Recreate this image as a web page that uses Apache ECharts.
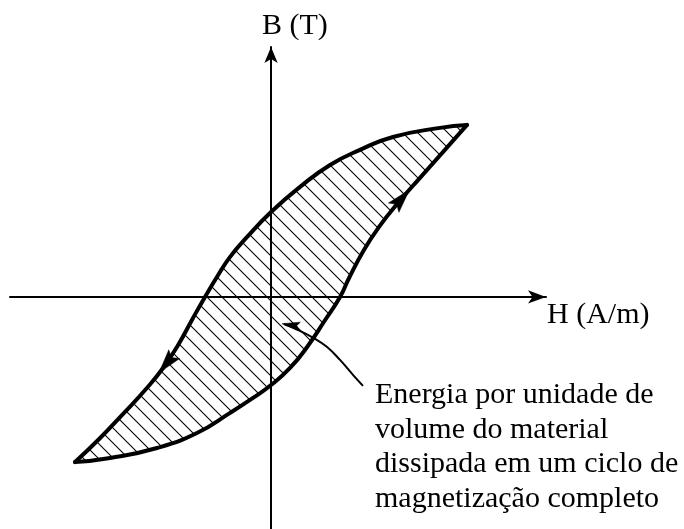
<!DOCTYPE html>
<html>
<head>
<meta charset="utf-8">
<script src="https://cdn.jsdelivr.net/npm/echarts@6/dist/echarts.min.js"></script>
<style>
  html, body { margin: 0; padding: 0; background: #fff; }
  #chart { width: 684px; height: 529px; }
</style>
</head>
<body>
<div id="chart"></div>
<script>
// Hysteresis loop, H and B normalised so the saturation tip is (1, 1)
// descending branch: from the upper right tip down to the lower left tip
const upperH = [1.0, 0.862, 0.622, 0.454, 0.301, 0.148, 0, -0.122, -0.209, -0.276, -0.337, -0.398, -0.474, -0.551, -0.638, -0.75, -0.872, -1.0];
const upperB = [1.0, 0.983, 0.930, 0.855, 0.767, 0.640, 0.494, 0.349, 0.233, 0.116, 0, -0.122, -0.279, -0.413, -0.535, -0.674, -0.82, -0.96];
// ascending branch: from the lower left tip up to the upper right tip
const lowerH = [-1.0, -0.821, -0.582, -0.378, -0.209, -0.092, 0, 0.097, 0.184, 0.276, 0.352, 0.398, 0.474, 0.551, 0.648, 0.760, 0.878, 1.0];
const lowerB = [-0.96, -0.936, -0.878, -0.791, -0.674, -0.587, -0.512, -0.413, -0.291, -0.134, 0, 0.110, 0.273, 0.407, 0.547, 0.692, 0.843, 1.0];

// direction arrows on the loop: [H, B, dH, dB]
const loopArrows = [
  [0.70, 0.615, 0.112, 0.145],
  [-0.565, -0.432, -0.087, -0.122]
];

// pointer to the hatched area
const pointerH = [0.469, 0.418, 0.352, 0.286, 0.209, 0.138, 0.066];
const pointerB = [-0.517, -0.453, -0.366, -0.291, -0.233, -0.192, -0.157];
const pointerTip = [[0.066, -0.157, -0.265, 0.041]];

const noteLines = [
  'Energia por unidade de',
  'volume do material',
  'dissipada em um ciclo de',
  'magnetização completo'
];

// axis extents (the arrow tips sit where the axes end)
const H_MIN = -1.332, H_MAX = 1.403;
const B_MIN = -1.349, B_MAX = 1.453;

const FONT = '30px "Liberation Serif", "Times New Roman", serif';

function zip(xs, ys) {
  return xs.map(function (x, i) { return [x, ys[i]]; });
}

const upperData = zip(upperH, upperB);
const lowerData = zip(lowerH, lowerB);
const loopPolygon = upperData.concat(lowerData.slice(1, -1));

// diagonal hatch tile
function makeHatch(step) {
  const c = document.createElement('canvas');
  c.width = step;
  c.height = step;
  const ctx = c.getContext('2d');
  ctx.strokeStyle = '#000';
  ctx.lineWidth = 1.1;
  ctx.beginPath();
  ctx.moveTo(-1, -1); ctx.lineTo(step + 1, step + 1);
  ctx.moveTo(-1, step - 1); ctx.lineTo(1, step + 1);
  ctx.moveTo(step - 1, -1); ctx.lineTo(step + 1, 1);
  ctx.stroke();
  return c;
}

function arrowRenderer(len, halfW) {
  return function (params, api) {
    const tip = api.coord([api.value(0), api.value(1)]);
    const ref = api.coord([api.value(0) + api.value(2), api.value(1) + api.value(3)]);
    let dx = ref[0] - tip[0], dy = ref[1] - tip[1];
    const d = Math.sqrt(dx * dx + dy * dy) || 1;
    dx /= d; dy /= d;
    const bx = tip[0] - dx * len, by = tip[1] - dy * len;
    const nx = -dy, ny = dx;
    const notchX = tip[0] - dx * len * 0.8, notchY = tip[1] - dy * len * 0.8;
    return {
      type: 'polygon',
      shape: {
        points: [
          [tip[0] + dx * 2, tip[1] + dy * 2],
          [bx + nx * halfW, by + ny * halfW],
          [notchX, notchY],
          [bx - nx * halfW, by - ny * halfW]
        ]
      },
      style: { fill: '#000', stroke: '#000', lineWidth: 0.5 }
    };
  };
}

const chart = echarts.init(document.getElementById('chart'));

const axisCommon = {
  type: 'value',
  axisTick: { show: false },
  axisLabel: { show: false },
  splitLine: { show: false }
};

chart.setOption({
  animation: false,
  backgroundColor: '#fff',
  grid: { left: 10, right: 138, top: 47, bottom: 0 },
  xAxis: Object.assign({}, axisCommon, {
    min: H_MIN, max: H_MAX,
    axisLine: {
      onZero: true,
      symbol: ['none', 'arrow'],
      symbolSize: [10, 18],
      lineStyle: { color: '#000', width: 2 }
    }
  }),
  yAxis: Object.assign({}, axisCommon, {
    min: B_MIN, max: B_MAX,
    axisLine: {
      onZero: true,
      symbol: ['none', 'arrow'],
      symbolSize: [10, 16],
      lineStyle: { color: '#000', width: 2 }
    }
  }),
  graphic: [
    { type: 'text', x: 262, y: 26, style: { text: 'B (T)', font: FONT, fill: '#000', verticalAlign: 'middle' } },
    { type: 'text', x: 547, y: 315, style: { text: 'H (A/m)', font: FONT, fill: '#000', verticalAlign: 'middle' } },
    { type: 'text', x: 375, y: 378, style: { text: noteLines.join('\n'), font: FONT, fill: '#000', lineHeight: 34.5, verticalAlign: 'top' } }
  ],
  series: [
    {
      type: 'custom',
      z: 1,
      silent: true,
      data: [[0, 0]],
      renderItem: function (params, api) {
        return {
          type: 'polygon',
          shape: { points: loopPolygon.map(function (p) { return api.coord(p); }) },
          style: { fill: { image: makeHatch(15), repeat: 'repeat' }, stroke: null }
        };
      }
    },
    {
      type: 'line',
      z: 3,
      data: upperData,
      smooth: 0.5,
      symbol: 'none',
      lineStyle: { color: '#000', width: 4, join: 'round', cap: 'round' }
    },
    {
      type: 'line',
      z: 3,
      data: lowerData,
      smooth: 0.5,
      symbol: 'none',
      lineStyle: { color: '#000', width: 4, join: 'round', cap: 'round' }
    },
    {
      type: 'line',
      z: 3,
      data: zip(pointerH, pointerB),
      smooth: 0.4,
      symbol: 'none',
      lineStyle: { color: '#000', width: 2 }
    },
    {
      type: 'custom',
      z: 4,
      data: loopArrows,
      renderItem: arrowRenderer(22, 7)
    },
    {
      type: 'custom',
      z: 4,
      data: pointerTip,
      renderItem: arrowRenderer(16, 4)
    }
  ]
});
</script>
</body>
</html>
